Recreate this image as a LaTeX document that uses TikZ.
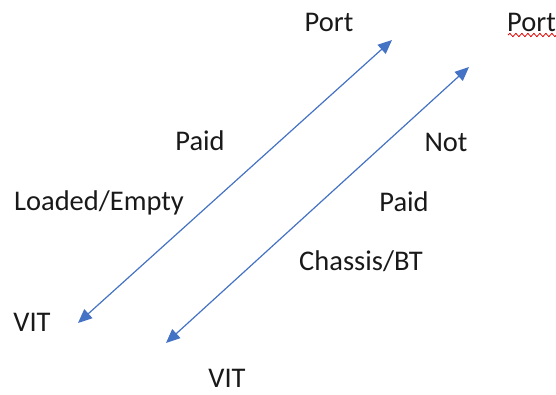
\documentclass[tikz,border=0pt]{standalone}
\usepackage{fontspec}
\setmainfont{Carlito}
\usepackage{tikz}
\usetikzlibrary{arrows.meta,decorations.pathmorphing}
\definecolor{officeblue}{RGB}{68,114,196}
\tikzset{
    arrow color/.style={officeblue},
    darr/.style={<->,>={Triangle[length=14pt,width=12pt]},arrow color,line width=1.2pt},
    spell mark/.style={red!85!black,line width=0.8pt,decorate,decoration={snake,amplitude=1.6pt,segment length=6pt}},
    txt/.style={anchor=base,inner sep=0pt,text depth=0pt,text=black!90},
}
\tikzstyle{every node}=[font=\fontsize{28.5}{34}\selectfont]

\begin{document}
\begin{tikzpicture}[x=1pt,y=-1pt]
        \useasboundingbox (0,0) rectangle (556,394);
        \node[txt] (port) at (329,31) {Port};
        \node[txt,anchor=base west] (port2) at (507,31) {Port};
        \node[txt] (paid) at (200,150) {Paid};
        \node[txt] (loaded) at (99,210) {Loaded/Empty};
        \node[txt] (vit) at (32,331) {VIT};
        \node[txt] (not) at (446,151) {Not};
        \node[txt] (paid2) at (404,211) {Paid};
        \node[txt] (chassis) at (361,270) {Chassis/BT};
        \node[txt] (vit2) at (227,387) {VIT};
        \coordinate (top1) at (392,40);
        \coordinate (bot1) at (78,323);
        \coordinate (top2) at (469,67);
        \coordinate (bot2) at (166,343);
        \coordinate (spell1) at (508,35);
        \coordinate (spell2) at (560,35);
        \draw[darr] (top1) -- (bot1);
        \draw[darr] (top2) -- (bot2);
        \draw[spell mark] (spell1) -- (spell2);
    \end{tikzpicture}
\end{document}
